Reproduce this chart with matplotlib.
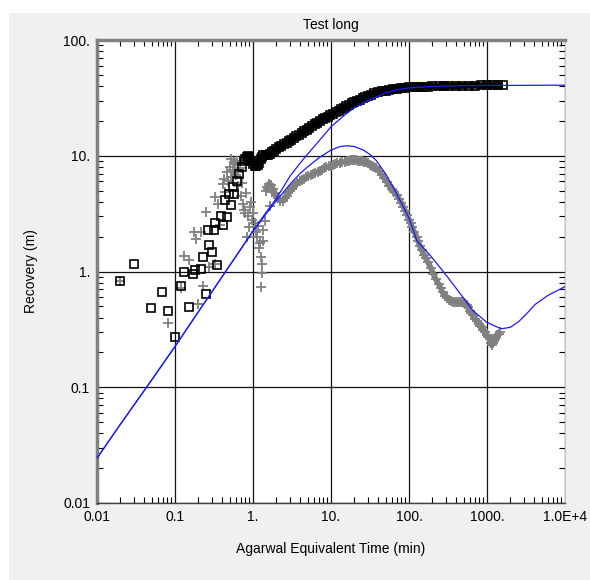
# plot.py - recovery versus Agarwal equivalent time, log-log, with model curves

# require
import matplotlib
matplotlib.use( 'Agg' )
import matplotlib.pyplot as plt
from matplotlib.patches import Rectangle
from matplotlib.ticker  import FixedLocator, FixedFormatter, LogLocator, NullFormatter

plt.rcParams[ 'font.family' ] = [ 'Liberation Sans', 'DejaVu Sans' ]

# data; early scattered recovery (squares)
sq_early_t = [ 0.020, 0.030, 0.049, 0.069, 0.081, 0.100, 0.118, 0.130, 0.151, 0.170, 0.180, 0.215,
               0.230, 0.250, 0.267, 0.270, 0.300, 0.320, 0.330, 0.350, 0.385, 0.417, 0.434, 0.460,
               0.490, 0.520, 0.550, 0.570, 0.620, 0.660, 0.720, 0.770 ]
sq_early_y = [ 0.83, 1.16, 0.48, 0.66, 0.46, 0.27, 0.75, 1.00, 0.49, 0.95, 1.04, 1.06,
               1.34, 0.64, 2.27, 1.69, 1.48, 2.27, 2.64, 1.14, 3.02, 2.53, 4.17, 2.96,
               4.67, 3.78, 5.33, 4.67, 6.09, 6.95, 7.94, 9.06 ]

# dense recovery (squares)
sq_t = [ 0.80, 0.83, 0.86, 0.90, 0.95, 1.00, 1.05, 1.10, 1.15, 1.20, 1.25, 1.30, 1.35, 1.45, 1.55,
         1.65, 1.75, 1.85, 2.0, 2.15, 2.3, 2.5, 2.7, 2.9, 3.1, 3.35, 3.6, 3.9, 4.2, 4.5, 4.9, 5.3,
         5.7, 6.2, 6.7, 7.2, 7.8, 8.4, 9.1, 9.8, 10.6, 11.5, 12.5, 13.5, 14.6, 15.8, 17.1, 18.5,
         20, 21.7, 23.5, 25.5, 27.6, 30, 33, 36, 40, 45, 50, 56, 63, 70, 80, 90, 100, 115, 130,
         150, 175, 200, 240, 280, 330, 400, 480, 580, 700, 850, 1000, 1200, 1400, 1600 ]
sq_y = [ 9.3, 9.8, 10.0, 9.8, 9.0, 8.5, 8.2, 8.1, 8.3, 8.7, 9.3, 9.8, 10.1, 10.2, 10.1,
         10.3, 10.8, 11.1, 11.4, 11.8, 12.2, 12.6, 13.0, 13.4, 13.8, 14.2, 14.7, 15.2, 15.7, 16.2, 16.8, 17.4,
         18.0, 18.7, 19.3, 20.0, 20.6, 21.2, 21.8, 22.4, 23.0, 23.8, 24.5, 25.2, 25.9, 26.7, 27.5, 28.3,
         29.0, 29.8, 30.6, 31.4, 32.2, 33.0, 33.8, 34.6, 35.3, 36.0, 36.6, 37.2, 37.7, 38.1, 38.5, 38.8, 39.0, 39.2, 39.4,
         39.5, 39.6, 39.7, 39.8, 39.9, 40.0, 40.1, 40.2, 40.3, 40.4, 40.5, 40.6, 40.6, 40.7, 40.7 ]

# early scattered derivative (pluses)
pl_early_t = [ 0.020, 0.081, 0.118, 0.130, 0.151, 0.173, 0.186, 0.199, 0.213, 0.230, 0.250, 0.270,
               0.330, 0.360, 0.330, 0.380, 0.410, 0.430, 0.460, 0.480, 0.500, 0.530, 0.550, 0.580,
               0.600, 0.620, 0.650, 0.680, 0.700, 0.750, 0.790, 0.810, 0.830, 0.880, 0.940, 1.00,
               1.05, 1.10, 1.12, 1.20, 1.27, 1.30, 1.29, 1.26, 1.34, 1.42, 1.67, 1.75,
               0.44, 0.52, 0.57, 0.64, 0.72, 0.77, 0.86, 0.92, 0.98, 1.16, 1.22, 1.36 ]
pl_early_y = [ 0.83, 0.36, 0.72, 1.36, 1.26, 2.18, 1.89, 0.52, 2.20, 0.75, 3.29, 1.10,
               4.37, 3.83, 1.16, 2.50, 5.65, 6.30, 7.18, 6.00, 8.00, 9.30, 7.50, 8.50,
               6.80, 9.00, 5.50, 7.80, 4.50, 3.83, 3.18, 4.73, 1.98, 2.40, 3.96, 3.18,
               2.60, 2.20, 1.98, 1.60, 1.33, 1.15, 0.97, 0.73, 1.85, 2.75, 3.70, 4.83,
               4.90, 6.60, 8.80, 7.20, 5.80, 3.40, 3.00, 3.60, 2.80, 2.45, 1.75, 2.30 ]

# dense derivative (pluses)
pl_t = [ 1.45, 1.5, 1.6, 1.7, 1.8, 1.9, 2.0, 2.1, 2.25, 2.4, 2.55, 2.7, 2.85, 3.0, 3.15, 3.3, 3.5,
         3.7, 3.95, 4.2, 4.5, 4.8, 5.1, 5.5, 5.9, 6.3, 6.75, 7.2, 7.7, 8.2, 8.75, 9.3, 9.9, 10.5,
         11.2, 12, 13, 14, 15, 16, 17, 18, 19, 20, 21, 22, 23.5, 25, 26.5, 28, 30, 32, 34, 36, 38,
         41, 45, 48, 52, 56, 60, 65, 70, 75, 80, 85, 90, 95, 100, 105, 110, 117, 125, 131, 138,
         146, 155, 165, 175, 190, 205, 220, 240, 255, 270, 290, 310, 330, 350, 370, 390, 410, 430,
         450, 475, 500, 525, 550, 575, 600, 630, 660, 700, 740, 780, 820, 860, 900, 950, 1000,
         1040, 1080, 1110, 1150, 1190, 1230, 1270, 1310, 1360, 1410, 1470 ]
pl_y = [ 5.0, 5.4, 5.7, 5.6, 5.2, 4.8, 4.5, 4.3, 4.1, 4.1, 4.3, 4.5, 4.8, 5.0, 5.2, 5.4, 5.6,
         5.8, 6.0, 6.2, 6.35, 6.5, 6.65, 6.8, 6.95, 7.1, 7.25, 7.4, 7.6, 7.8, 7.95, 8.1, 8.2, 8.3,
         8.45, 8.6, 8.7, 8.8, 8.9, 9.0, 9.05, 9.1, 9.1, 9.1, 9.1, 9.05, 9.0, 8.95, 8.85, 8.75, 8.6, 8.4, 8.2, 8.05, 7.9,
         7.4, 6.8, 6.4, 5.9, 5.5, 5.2, 4.9, 4.6, 4.2, 3.9, 3.6, 3.3, 3.05, 2.8, 2.6, 2.4, 2.2, 2.0, 1.82, 1.65,
         1.52, 1.4, 1.3, 1.2, 1.08, 0.95, 0.86, 0.78, 0.72, 0.66, 0.62, 0.59, 0.57, 0.56, 0.55, 0.55, 0.55, 0.55,
         0.54, 0.54, 0.53, 0.52, 0.51, 0.49, 0.46, 0.44, 0.42, 0.39, 0.37, 0.35, 0.34, 0.33, 0.31, 0.30, 0.28,
         0.27, 0.26, 0.24, 0.23, 0.24, 0.25, 0.26, 0.27, 0.28, 0.29, 0.30 ]

# model curves (blue)
fit_t = [ 0.01, 0.02, 0.05, 0.1, 0.2, 0.5, 1.0, 1.5, 2.0, 3.0, 4.0, 5.0, 7.0, 10, 15, 20, 30,
          50, 70, 100, 200, 500, 1000, 10000 ]
fit_y = [ 0.0244, 0.048, 0.115, 0.225, 0.45, 1.12, 2.25, 3.3, 4.3, 6.7, 8.6, 10.3, 13.4, 17.8, 22.5, 26.0, 30.0,
          35.0, 37.2, 38.5, 39.8, 40.3, 40.5, 40.7 ]
der_t = [ 0.01, 0.02, 0.05, 0.1, 0.2, 0.5, 1.0, 1.5, 2.0, 3.0, 4.0, 5.0, 7.0, 10, 13, 16, 20, 26,
          32, 38, 50, 63, 80, 100, 126, 190, 278, 400, 660, 980, 1300, 1540, 2000, 2560, 3200,
          4150, 6000, 10000 ]
der_y = [ 0.0244, 0.048, 0.115, 0.225, 0.45, 1.12, 2.22, 3.2, 4.1, 5.7, 7.0, 8.0, 9.6, 11.2, 12.0, 12.2, 12.0, 11.2,
          10.2, 9.1, 7.0, 5.3, 3.9, 2.9, 1.85, 1.36, 0.99, 0.72, 0.46, 0.366, 0.335, 0.32, 0.33, 0.37, 0.43,
          0.52, 0.62, 0.74 ]

xticks       = [ 0.01, 0.1, 1, 10, 100, 1000, 10000 ]
xtick_labels = [ '0.01', '0.1', '1.', '10.', '100.', '1000.', '1.0E+4' ]
yticks       = [ 0.01, 0.1, 1, 10, 100 ]
ytick_labels = [ '0.01', '0.1', '1.', '10.', '100.' ]

# figure and panel
fig = plt.figure( figsize=( 5.9, 5.8 ), dpi=100, facecolor='white' )
fig.patches.append( Rectangle( ( 9 / 590, 0 ), 581 / 590, 567 / 580, transform=fig.transFigure,
                               facecolor='#f0f0f0', edgecolor='none', zorder=-10 ) )
ax = fig.add_axes( [ 97 / 590, 77 / 580, 468 / 590, 463 / 580 ] )
ax.set_facecolor( 'white' )

# plot; dense runs get a thick underlay so the marks merge into a band, as in the original
ax.plot( pl_t, pl_y, color='#808080', lw=4, solid_capstyle='butt', zorder=2 )
ax.plot( pl_early_t, pl_early_y, linestyle='none', marker='+', color='#808080', ms=6.5, mew=1.3, zorder=3 )
ax.plot( pl_t, pl_y, linestyle='none', marker='+', color='#808080', ms=6.5, mew=1.3, zorder=3 )
ax.plot( sq_t, sq_y, color='black', lw=4.5, solid_capstyle='butt', zorder=4 )
ax.plot( sq_early_t, sq_early_y, linestyle='none', marker='s', mfc='none', mec='black', ms=5.5, mew=1.2, zorder=4 )
ax.plot( sq_t, sq_y, linestyle='none', marker='s', mfc='none', mec='black', ms=5.5, mew=1.2, zorder=4 )
ax.plot( fit_t, fit_y, color='#1a1aff', lw=0.9, zorder=5 )
ax.plot( der_t, der_y, color='#1a1aff', lw=0.9, zorder=5 )

# axes
ax.set_xscale( 'log' )
ax.set_yscale( 'log' )
ax.set_xlim( 0.01, 10000 )
ax.set_ylim( 0.01, 100 )
ax.xaxis.set_major_locator( FixedLocator( xticks ) )
ax.xaxis.set_major_formatter( FixedFormatter( xtick_labels ) )
ax.yaxis.set_major_locator( FixedLocator( yticks ) )
ax.yaxis.set_major_formatter( FixedFormatter( ytick_labels ) )
for axis in ( ax.xaxis, ax.yaxis ) :
	axis.set_minor_locator( LogLocator( base=10, subs=range( 2, 10 ), numticks=20 ) )
	axis.set_minor_formatter( NullFormatter() )
ax.tick_params( which='both', direction='in', top=True, right=True, labelsize=10, colors='black', pad=5 )
ax.tick_params( which='major', length=0 )
ax.tick_params( which='minor', length=4, width=0.8 )
ax.grid( which='major', color='#111111', lw=0.9 )

for side in ( 'left', 'top' ) :
	ax.spines[ side ].set_color( '#808080' )
	ax.spines[ side ].set_linewidth( 2.5 )
ax.spines[ 'bottom' ].set_color( '#404040' )
ax.spines[ 'bottom' ].set_linewidth( 1 )
ax.spines[ 'right' ].set_color( '#c8c8c8' )
ax.spines[ 'right' ].set_linewidth( 0.8 )

ax.set_title( 'Test long', fontsize=10, pad=8 )
ax.set_xlabel( 'Agarwal Equivalent Time (min)', fontsize=10 )
ax.set_ylabel( 'Recovery (m)', fontsize=10 )
ax.xaxis.set_label_coords( 0.5, -0.085 )
ax.yaxis.set_label_coords( -0.125, 0.5 )

# done
fig.savefig( 'out.png', dpi=100, facecolor='white' )
